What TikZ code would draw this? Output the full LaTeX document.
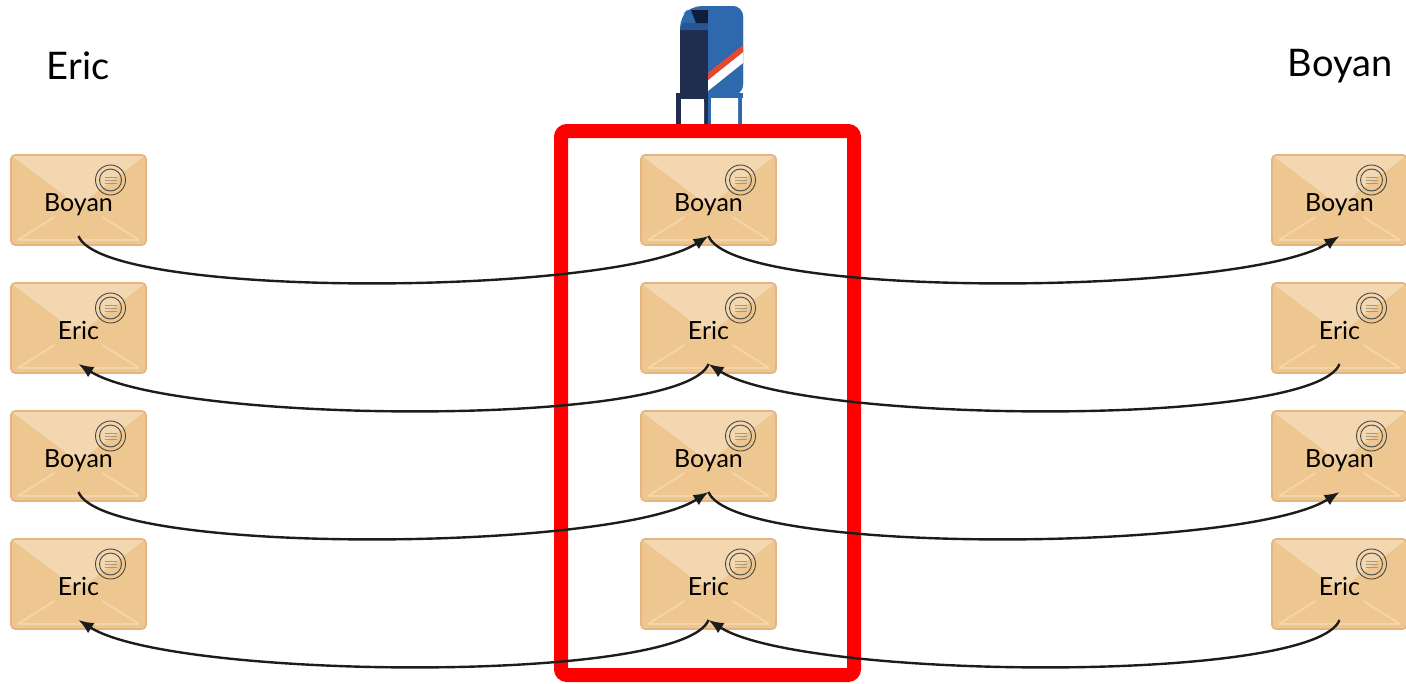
\documentclass[tikz,border=0pt]{standalone}
\usepackage{fontspec}
\setmainfont{Lato}
\usetikzlibrary{arrows.meta,calc}

\definecolor{envfill}{HTML}{EEC790}
\definecolor{envedge}{HTML}{E6B47C}
\definecolor{envflap}{HTML}{F2D7B0}
\definecolor{envline}{HTML}{F4D4A8}
\definecolor{stampink}{HTML}{4A4642}
\definecolor{stampline}{HTML}{A89880}
\definecolor{boxred}{HTML}{FF0000}
\definecolor{arrowink}{HTML}{1C1C1C}
\definecolor{navy}{HTML}{1F2D4E}
\definecolor{slotnavy}{HTML}{0F1D3A}
\definecolor{ledge}{HTML}{2A5594}
\definecolor{mailblue}{HTML}{2E69AE}
\definecolor{stripered}{HTML}{E8472F}

\begin{document}
\begin{tikzpicture}[x=1pt,y=-1pt,
  envelope/.style={draw=envedge, line width=1.6pt, fill=envfill,
    rounded corners=4pt, minimum width=135pt, minimum height=90pt,
    inner sep=0pt, text height=22pt, text depth=0pt,
    font=\fontsize{25}{28}\selectfont,
    path picture={
      \fill[envflap, sharp corners]
        (path picture bounding box.north west) --
        (path picture bounding box.north east) --
        ($(path picture bounding box.center)+(0,6)$) -- cycle;
      \draw[envline, line width=2pt, sharp corners]
        ($(path picture bounding box.south west)+(7,-5)$) --
        ($(path picture bounding box.center)+(-24,17)$);
      \draw[envline, line width=2pt, sharp corners]
        ($(path picture bounding box.south east)+(-7,-5)$) --
        ($(path picture bounding box.center)+(24,17)$);
      \draw[envline, line width=1.4pt, sharp corners]
        ($(path picture bounding box.south west)+(7,-5)$) --
        ($(path picture bounding box.south east)+(-7,-5)$);
      \draw[stampink, line width=0.9pt]
        ($(path picture bounding box.center)+(32,-20)$) circle[radius=15pt];
      \draw[stampink, line width=0.9pt]
        ($(path picture bounding box.center)+(32,-20)$) circle[radius=11pt];
      \foreach \dy in {-3,0,3}{
        \draw[stampline, line width=0.7pt]
          ($(path picture bounding box.center)+(26,-20+\dy)$) --
          ($(path picture bounding box.center)+(38,-20+\dy)$);
      }
    }},
  title/.style={font=\fontsize{38}{44}\selectfont, inner sep=0pt},
  frame/.style={draw=boxred, line width=14pt, rounded corners=6pt,
    minimum width=293pt, minimum height=544pt, inner sep=0pt},
  arr/.style={draw=arrowink, line width=2.4pt,
    -{Latex[length=15pt,width=12pt]}},
]
\useasboundingbox (0,0) rectangle (1406,683);

% titles
\node[title] (tEric) at (78,66) {Eric};
\node[title] (tBoyan) at (1340,66) {Boyan};

% mailbox icon
\begin{scope}
  % shell with rounded dome
  \fill[mailblue, rounded corners=11pt] (680,95) -- (680,17) -- (691,6)
    -- (743,6) -- (743,95) -- cycle;
  % dark front face
  \fill[navy] (680,30) rectangle (708,95);
  % ledge under the slot
  \fill[ledge] (683,23) -- (708,23) -- (708,30) -- (680,30) -- cycle;
  % slot
  \fill[slotnavy] (691,10) -- (708,10) -- (708,23) -- (696,23) -- cycle;
  % dome edge
  \fill[mailblue, rounded corners=10pt] (708,95) -- (708,6) -- (743,6)
    -- (743,95) -- cycle;
  % stripes
  \fill[white] (708,80) -- (743,52) -- (743,63) -- (708,91) -- cycle;
  \fill[stripered] (708,73) -- (743,45) -- (743,52) -- (708,80) -- cycle;
  % legs
  \fill[navy] (676,93) rectangle (681,124);
  \fill[navy] (676,93) rectangle (708,99);
  \fill[mailblue] (708,93) rectangle (743,98);
  \fill[navy] (704,93) rectangle (708,124);
  \fill[mailblue] (708,93) rectangle (711,124);
  \fill[mailblue] (738,93) rectangle (742,124);
  \fill[white] (681,99) -- (704,102) -- (704,124) -- (681,124) -- cycle;
  \fill[white] (711,102) -- (738,98) -- (738,124) -- (711,124) -- cycle;
\end{scope}

% frame around the middle column
\node[frame] (box) at (707.5,403) {};

% envelopes
\foreach \r/\y/\name in {1/200/Boyan, 2/328/Eric, 3/456/Boyan, 4/584/Eric}{
  \node[envelope] (l\r) at (78.5,\y) {\name};
  \node[envelope] (m\r) at (708.5,\y) {\name};
  \node[envelope] (r\r) at (1339.5,\y) {\name};
}

% anchor points near the bottom of each envelope
\foreach \r in {1,2,3,4}{
  \coordinate (l\r b) at ($(l\r.center)+(0,36)$);
  \coordinate (m\r b) at ($(m\r.center)+(0,36)$);
  \coordinate (r\r b) at ($(r\r.center)+(0,36)$);
}

% letters from Eric to Boyan
\foreach \r in {1,3}{
  \draw[arr] (l\r b) .. controls +(25,64) and +(-95,60) .. (m\r b);
  \draw[arr] (m\r b) .. controls +(25,64) and +(-95,60) .. (r\r b);
}
% letters from Boyan to Eric
\foreach \r in {2,4}{
  \draw[arr] (r\r b) .. controls +(-25,64) and +(95,60) .. (m\r b);
  \draw[arr] (m\r b) .. controls +(-25,64) and +(95,60) .. (l\r b);
}
\end{tikzpicture}
\end{document}
